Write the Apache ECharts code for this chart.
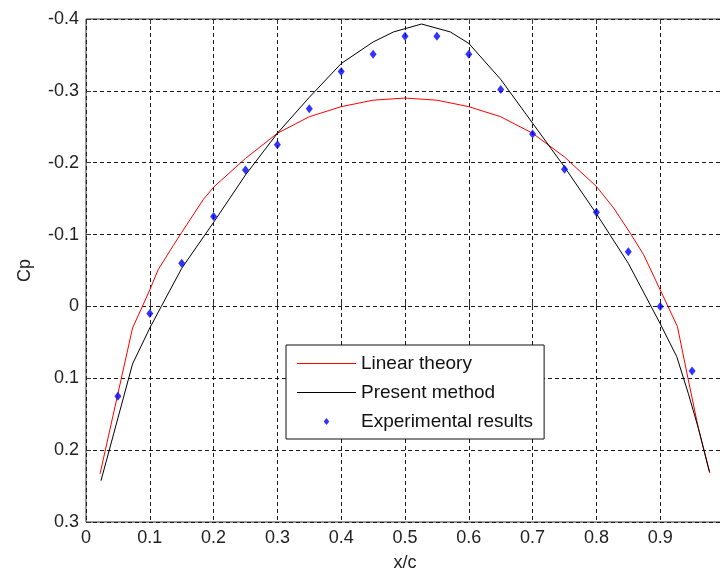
<!DOCTYPE html>
<html>
<head>
<meta charset="utf-8">
<script src="https://cdn.jsdelivr.net/npm/echarts@6/dist/echarts.min.js"></script>
<style>
    html, body { margin: 0; padding: 0; background: #fff; }
    #cpChart { width: 720px; height: 573px; }
</style>
</head>
<body>
<div id="cpChart"></div>
<script>
// 刻度
var xTicks = [0, 0.1, 0.2, 0.3, 0.4, 0.5, 0.6, 0.7, 0.8, 0.9, 1];
var yTicks = [-0.4, -0.3, -0.2, -0.1, 0, 0.1, 0.2, 0.3];

// Linear theory
var linX = [0.022, 0.073, 0.1, 0.113, 0.137, 0.15, 0.184, 0.2, 0.25, 0.3, 0.35, 0.4, 0.45, 0.5,
            0.55, 0.6, 0.65, 0.7, 0.75, 0.8, 0.827, 0.853, 0.874, 0.9, 0.927, 0.944, 0.96, 0.978];
var linCp = [0.233, 0.03, -0.023, -0.051, -0.085, -0.103, -0.149, -0.166, -0.206, -0.241, -0.264, -0.278, -0.287, -0.29,
             -0.287, -0.278, -0.264, -0.241, -0.208, -0.167, -0.137, -0.102, -0.072, -0.023, 0.028, 0.102, 0.17, 0.232];

// Present method
var preX = [0.0235, 0.073, 0.1, 0.118, 0.15, 0.2, 0.25, 0.3, 0.35, 0.4, 0.45, 0.482, 0.526,
            0.571, 0.6, 0.65, 0.7, 0.75, 0.8, 0.85, 0.9, 0.926, 0.944, 0.96, 0.977];
var preCp = [0.2425, 0.08, 0.03, 0, -0.053, -0.117, -0.183, -0.241, -0.291, -0.338, -0.368, -0.382, -0.393,
             -0.382, -0.366, -0.316, -0.255, -0.194, -0.129, -0.06, 0.024, 0.07, 0.121, 0.17, 0.23];

// Experimental results
var expX = [0.05, 0.1, 0.15, 0.2, 0.25, 0.3, 0.35, 0.4, 0.45, 0.5, 0.55, 0.6, 0.65, 0.7, 0.75, 0.8, 0.85, 0.9, 0.95];
var expCp = [0.125, 0.01, -0.06, -0.125, -0.19, -0.225, -0.275, -0.327, -0.351, -0.376, -0.376, -0.351, -0.302, -0.24, -0.191, -0.131, -0.076, 0, 0.09];

function pairs(xs, ys) {
    var out = [];
    for (var i = 0; i < xs.length; i++) {
        out.push([xs[i], ys[i]]);
    }
    return out;
}

cpChart();
function cpChart() {
    var myChart = echarts.init(document.getElementById('cpChart'));
    var fontName = '"Liberation Sans", Arial, sans-serif';
    var gridLine = {
        show: true,
        lineStyle: { color: '#1a1a1a', width: 1, type: [4, 3] }
    };
    var baseX = {
        type: 'value',
        min: xTicks[0],
        max: xTicks[xTicks.length - 1],
        interval: 0.1,
        axisLine: { show: false },
        axisTick: { show: true, inside: true, length: 5, lineStyle: { color: '#333' } }
    };
    // 图例图标: 细线 / 小菱形 (M点撑开包围盒, 保持比例)
    var lineIcon = 'path://M0,3.5 L59,3.5 L59,4.5 L0,4.5 Z';
    var dotIcon = 'path://M-29.5,-4 M29.5,4 M0,-3.5 L2.8,0 L0,3.5 L-2.8,0 Z';

    var option = {
        backgroundColor: '#fff',
        animation: false,
        textStyle: { fontFamily: fontName },
        grid: {
            left: 86, top: 19, width: 638, height: 503,
            outerBoundsMode: 'none',
            containLabel: false,
            show: true, borderColor: '#333', borderWidth: 1,
            backgroundColor: '#fff'
        },
        legend: {
            orient: 'vertical',
            left: 286, top: 345,
            padding: [9, 11, 8, 11],
            itemWidth: 59,
            itemHeight: 8,
            itemGap: 10,
            backgroundColor: '#fff',
            borderColor: '#111',
            borderWidth: 1,
            borderRadius: 0,
            textStyle: { fontSize: 19, color: '#111', lineHeight: 18, fontFamily: fontName },
            data: [
                { name: 'Linear theory', icon: lineIcon },
                { name: 'Present method', icon: lineIcon },
                { name: 'Experimental results', icon: dotIcon }
            ]
        },
        xAxis: [
            echarts.util.merge({
                position: 'bottom',
                name: 'x/c',
                nameLocation: 'middle',
                nameGap: 32,
                nameTextStyle: { fontSize: 18, color: '#222' },
                axisLabel: { fontSize: 18, color: '#222', margin: 7, showMaxLabel: false },
                splitLine: gridLine
            }, baseX, true),
            echarts.util.merge({
                position: 'top',
                axisLabel: { show: false },
                splitLine: { show: false }
            }, baseX, true)
        ],
        yAxis: {
            type: 'value',
            inverse: true,
            min: yTicks[0],
            max: yTicks[yTicks.length - 1],
            interval: 0.1,
            name: 'Cp',
            nameLocation: 'middle',
            nameGap: 52,
            nameTextStyle: { fontSize: 18, color: '#222' },
            axisLine: { show: false },
            axisTick: { show: true, inside: true, length: 5, lineStyle: { color: '#333' } },
            axisLabel: { fontSize: 18, color: '#222', margin: 7 },
            splitLine: gridLine
        },
        series: [
            {
                name: 'Linear theory',
                type: 'line',
                showSymbol: false,
                symbol: 'none',
                data: pairs(linX, linCp),
                lineStyle: { color: '#ff0000', width: 1 },
                itemStyle: { color: '#ff0000' },
                z: 3
            },
            {
                name: 'Present method',
                type: 'line',
                showSymbol: false,
                symbol: 'none',
                data: pairs(preX, preCp),
                lineStyle: { color: '#000', width: 1 },
                itemStyle: { color: '#000' },
                z: 3
            },
            {
                name: 'Experimental results',
                type: 'scatter',
                symbol: 'diamond',
                symbolSize: [7, 9],
                data: pairs(expX, expCp),
                itemStyle: { color: '#0000ff' },
                z: 4
            }
        ]
    };

    myChart.setOption(option);
}
</script>
</body>
</html>
